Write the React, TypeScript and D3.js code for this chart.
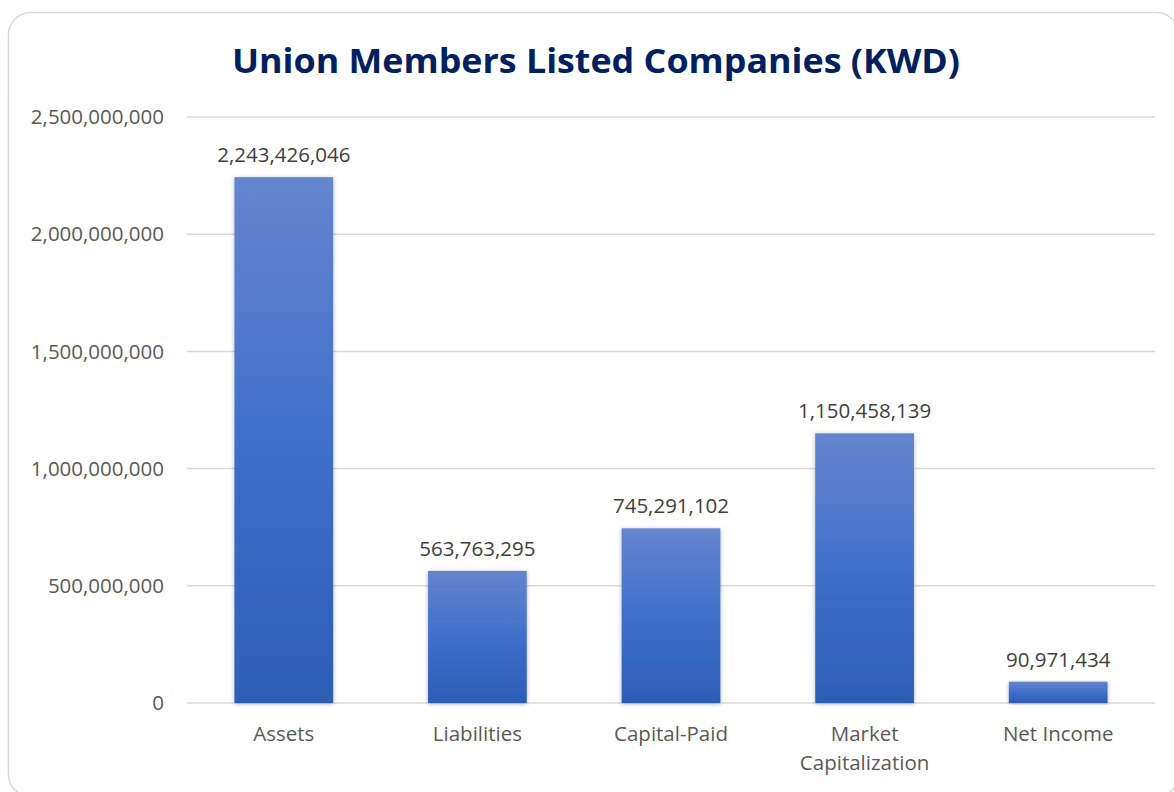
import React from 'react'
import * as d3 from 'd3'

const categories = ['Assets', 'Liabilities', 'Capital-Paid', 'Market Capitalization', 'Net Income']
const values = [2243426046, 563763295, 745291102, 1150458139, 90971434]
const yTicks = [0, 500000000, 1000000000, 1500000000, 2000000000, 2500000000]

const W = 1174
const H = 792
const margin = { top: 117, right: 19, bottom: 89, left: 187 }

const fmt = d3.format(',')

const App = () => {
  const x = d3.scaleBand()
    .domain(categories)
    .range([margin.left, W - margin.right])
    .paddingInner(0.49)
    .paddingOuter(0.245)

  const y = d3.scaleLinear()
    .domain([0, 2500000000])
    .range([H - margin.bottom, margin.top])

  const labelFont = "'Open Sans', 'Noto Sans', sans-serif"
  const fs = 20.5

  return (
    <svg width={W} height={H} style={{ position: 'absolute', left: 0, top: 0, background: '#fff' }}>
      <defs>
        <linearGradient id="barGrad" x1="0" y1="0" x2="0" y2="1">
          <stop offset="0%" stopColor="#6585CE" />
          <stop offset="50%" stopColor="#3F6FCB" />
          <stop offset="100%" stopColor="#2D5DB6" />
        </linearGradient>
        <filter id="shadow" x="-20%" y="-5%" width="140%" height="110%">
          <feDropShadow dx="0" dy="1" stdDeviation="2" floodColor="#000" floodOpacity="0.3" />
        </filter>
      </defs>

      <rect x={8.5} y={12.5} width={1170} height={784} rx={22} fill="#fff" stroke="#d9d9d9" strokeWidth={1.5} />

      <text x={596} y={73} textAnchor="middle" fontFamily="'Open Sans', 'Noto Sans', sans-serif"
        fontWeight="bold" fontSize={34} fill="#002060" textLength={728} lengthAdjust="spacingAndGlyphs">
        Union Members Listed Companies (KWD)
      </text>

      {/* grid + y ticks */}
      {yTicks.map(t => (
        <g key={t}>
          <line x1={margin.left} x2={W - margin.right} y1={y(t)} y2={y(t)} stroke="#d9d9d9" strokeWidth={1.5} />
          <text x={164} y={y(t)} dy="0.35em" textAnchor="end" fontFamily={labelFont} fontSize={fs} fill="#595959">
            {fmt(t)}
          </text>
        </g>
      ))}

      {/* bars */}
      {categories.map((c, i) => (
        <g key={c}>
          <rect x={x(c)} y={y(values[i])} width={x.bandwidth()} height={y(0) - y(values[i])}
            fill="url(#barGrad)" filter="url(#shadow)" />
          <text x={x(c) + x.bandwidth() / 2} y={y(values[i]) - 15} textAnchor="middle"
            fontFamily={labelFont} fontSize={fs} fill="#404040">
            {fmt(values[i])}
          </text>
        </g>
      ))}

      {/* category labels */}
      {categories.map(c => {
        const lines = c === 'Market Capitalization' ? ['Market', 'Capitalization'] : [c]
        return (
          <text key={c} x={x(c) + x.bandwidth() / 2} y={741} textAnchor="middle"
            fontFamily={labelFont} fontSize={fs} fill="#595959">
            {lines.map((l, j) => (
              <tspan key={l} x={x(c) + x.bandwidth() / 2} dy={j === 0 ? 0 : 29}>{l}</tspan>
            ))}
          </text>
        )
      })}
    </svg>
  )
}

export default App
